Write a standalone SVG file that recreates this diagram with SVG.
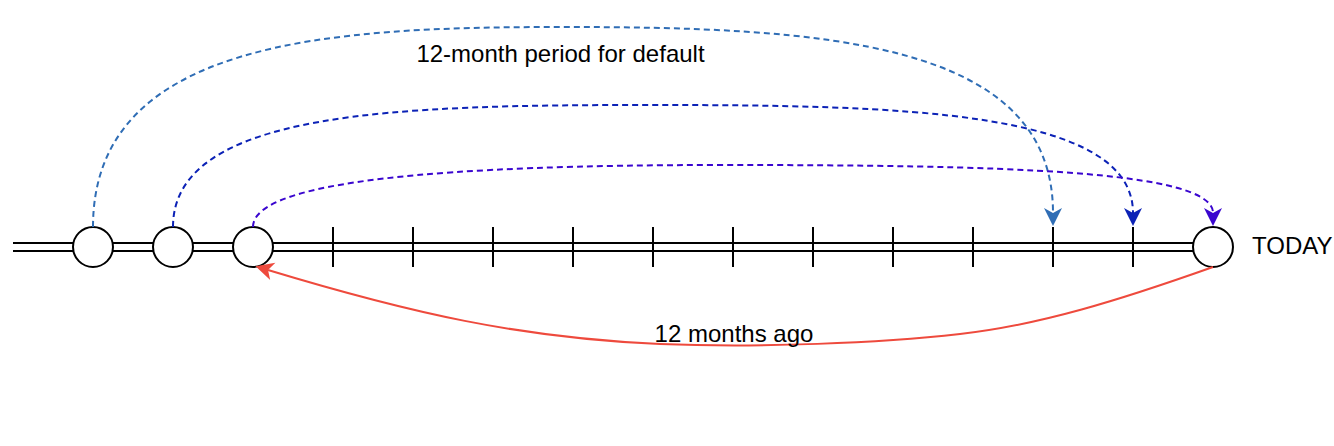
<svg xmlns="http://www.w3.org/2000/svg" width="1334" height="446" viewBox="0 0 1334 446">
<style>
.ln{stroke:#000;stroke-width:2;fill:none}
.node{fill:#fff;stroke:#000;stroke-width:2}
.tick{stroke:#000;stroke-width:2}
.dash{fill:none;stroke-width:2;stroke-dasharray:6 4}
.lbl{font-family:"Liberation Sans",Arial,Helvetica,sans-serif;font-size:24px;fill:#000}
</style>
<defs>
<marker id="m1" markerUnits="userSpaceOnUse" markerWidth="26" markerHeight="26" viewBox="-7 -13 26 26" refX="0" refY="0" orient="auto"><path d="M13,0 L-5,-9 L0,0 L-5,9 Z" fill="#2f6db5"/></marker>
<marker id="m2" markerUnits="userSpaceOnUse" markerWidth="26" markerHeight="26" viewBox="-7 -13 26 26" refX="0" refY="0" orient="auto"><path d="M13,0 L-5,-9 L0,0 L-5,9 Z" fill="#0c22b6"/></marker>
<marker id="m3" markerUnits="userSpaceOnUse" markerWidth="26" markerHeight="26" viewBox="-7 -13 26 26" refX="0" refY="0" orient="auto"><path d="M13,0 L-5,-9 L0,0 L-5,9 Z" fill="#3a06cf"/></marker>
<marker id="m4" markerUnits="userSpaceOnUse" markerWidth="26" markerHeight="26" viewBox="-7 -13 26 26" refX="0" refY="0" orient="auto"><path d="M13,0 L-5,-9 L0,0 L-5,9 Z" fill="#ee4a3d"/></marker>
</defs>
<g id="timeline">
<line class="ln" x1="13" y1="243" x2="1195" y2="243"/>
<line class="ln" x1="13" y1="251" x2="1195" y2="251"/>
<line class="tick" x1="333" y1="227" x2="333" y2="267"/>
<line class="tick" x1="413" y1="227" x2="413" y2="267"/>
<line class="tick" x1="493" y1="227" x2="493" y2="267"/>
<line class="tick" x1="573" y1="227" x2="573" y2="267"/>
<line class="tick" x1="653" y1="227" x2="653" y2="267"/>
<line class="tick" x1="733" y1="227" x2="733" y2="267"/>
<line class="tick" x1="813" y1="227" x2="813" y2="267"/>
<line class="tick" x1="893" y1="227" x2="893" y2="267"/>
<line class="tick" x1="973" y1="227" x2="973" y2="267"/>
<line class="tick" x1="1053" y1="227" x2="1053" y2="267"/>
<line class="tick" x1="1133" y1="227" x2="1133" y2="267"/>
</g>
<g id="node-1"><circle class="node" cx="93" cy="247" r="20"/></g>
<g id="node-2"><circle class="node" cx="173" cy="247" r="20"/></g>
<g id="node-3"><circle class="node" cx="253" cy="247" r="20"/></g>
<g id="node-today"><circle class="node" cx="1213" cy="247" r="20"/><text class="lbl" x="1252" y="254">TODAY</text></g>
<g id="connectors">
<path class="dash" stroke="#2f6db5" d="M93,227 C93,40 330,27 560,27 C820,27 1053,40 1053,213" marker-end="url(#m1)"/>
<path class="dash" stroke="#0c22b6" d="M173,227 C173,110 400,105 650,105 C900,105 1133,110 1133,213" marker-end="url(#m2)"/>
<path class="dash" stroke="#3a06cf" d="M253,227 C253,180 450,165 720,165 C1000,165 1213,170 1213,213" marker-end="url(#m3)"/>
<path fill="none" stroke="#ee4a3d" stroke-width="2" d="M1213,267 C1120,300 1040,325 960,334 C880,343 760,348 660,344 C520,338 410,313 268,270" marker-end="url(#m4)"/>
<text class="lbl" x="560.5" y="62" text-anchor="middle">12-month period for default</text>
<text class="lbl" x="734" y="342" text-anchor="middle">12 months ago</text>
</g>
</svg>
